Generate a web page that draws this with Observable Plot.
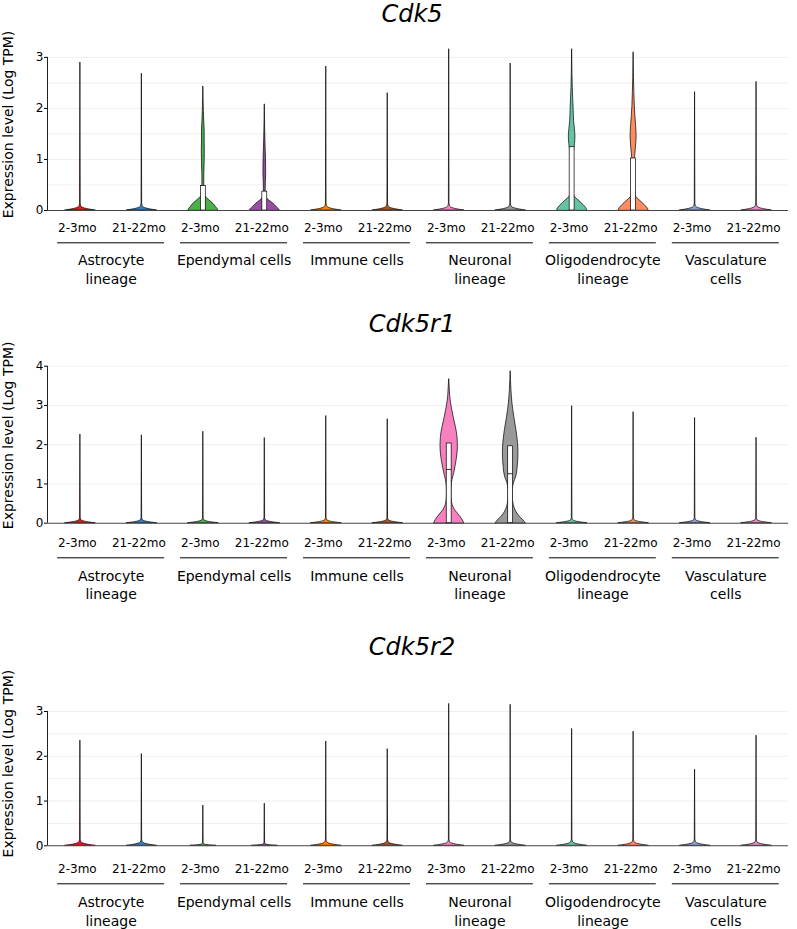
<!DOCTYPE html>
<html><head><meta charset="utf-8">
<script src="https://cdn.jsdelivr.net/npm/d3@7"></script>
<script src="https://cdn.jsdelivr.net/npm/@observablehq/plot@0.6"></script>
<style>
body{margin:0;background:#fff;}
#root{position:relative;width:797px;height:929px;overflow:hidden;font-family:"DejaVu Sans",sans-serif;background:#fff;}
.title{position:absolute;font-style:italic;font-size:24px;line-height:24px;white-space:nowrap;transform:translateX(-50%);color:#000;font-family:"DejaVu Sans",sans-serif;z-index:2;}
.panel{position:absolute;left:0;overflow:visible;}
.panel svg{overflow:visible !important;background:transparent !important;}
</style></head><body><div id="root"></div>
<script>
// ---------- data ----------
const genes = ["Cdk5", "Cdk5r1", "Cdk5r2"];
const groupLabels = ["Astrocyte\nlineage", "Ependymal cells", "Immune cells", "Neuronal\nlineage", "Oligodendrocyte\nlineage", "Vasculature\ncells"];
const ageLabels = ["2-3mo", "21-22mo"];
const yTitle = "Expression level (Log TPM)";

// maximum expression (top of each violin), cells ordered group × age
const cdk5Max   = [2.90, 2.68, 2.43, 2.08, 2.82, 2.30, 3.16, 2.88, 3.16, 3.10, 2.32, 2.52];
const cdk5r1Max = [2.26, 2.24, 2.33, 2.17, 2.73, 2.65, 3.67, 3.87, 2.98, 2.83, 2.68, 2.18];
const cdk5r2Max = [2.35, 2.05, 0.90, 0.94, 2.33, 2.16, 3.17, 3.15, 2.61, 2.55, 1.70, 2.46];

// density profiles [expression, relative half-width]
const spikeBase = [[0,1],[0.02,0.6],[0.04,0.3],[0.06,0.13],[0.09,0.05],[0.14,0.02]];
const flatBase  = [[0,0.85],[0.012,0.35],[0.03,0.1],[0.06,0.02]];
const cdk5Epen23   = [[0,1],[0.03,0.95],[0.065,0.85],[0.13,0.67],[0.2,0.4],[0.26,0.18],[0.3,0.1],[0.4,0.07],[0.55,0.06],[0.75,0.07],[0.95,0.09],[1.15,0.1],[1.35,0.09],[1.55,0.09],[1.75,0.06],[1.95,0.035],[2.2,0.015]];
const cdk5Epen2122 = [[0,1],[0.03,0.93],[0.065,0.8],[0.13,0.58],[0.19,0.32],[0.24,0.14],[0.28,0.08],[0.4,0.06],[0.55,0.07],[0.7,0.09],[0.85,0.09],[1.0,0.08],[1.2,0.06],[1.4,0.04],[1.6,0.025],[1.85,0.012]];
const cdk5Oligo23  = [[0,1],[0.05,0.93],[0.1,0.78],[0.2,0.42],[0.26,0.2],[0.31,0.12],[0.4,0.08],[0.6,0.06],[0.8,0.06],[1.0,0.08],[1.15,0.12],[1.3,0.19],[1.45,0.22],[1.6,0.18],[1.75,0.13],[2.0,0.1],[2.2,0.07],[2.4,0.045],[2.7,0.02],[3.0,0.008]];
const cdk5Oligo2122= [[0,1],[0.05,0.92],[0.1,0.76],[0.2,0.4],[0.26,0.19],[0.31,0.11],[0.4,0.07],[0.6,0.06],[0.85,0.07],[1.05,0.1],[1.25,0.16],[1.45,0.2],[1.65,0.17],[1.85,0.12],[2.05,0.08],[2.3,0.05],[2.6,0.025],[2.9,0.01]];
const r1Neur23   = [[0,1],[0.085,0.89],[0.17,0.73],[0.25,0.56],[0.34,0.38],[0.42,0.27],[0.51,0.2],[0.64,0.16],[0.8,0.15],[0.93,0.16],[1.1,0.22],[1.27,0.33],[1.44,0.42],[1.7,0.53],[1.95,0.58],[2.2,0.55],[2.46,0.44],[2.71,0.29],[2.97,0.16],[3.22,0.07],[3.48,0.03]];
const r1Neur2122 = [[0,1],[0.085,0.82],[0.17,0.6],[0.25,0.44],[0.34,0.31],[0.47,0.2],[0.59,0.15],[0.75,0.13],[0.88,0.15],[1.02,0.22],[1.19,0.38],[1.44,0.47],[1.78,0.52],[2.04,0.49],[2.38,0.38],[2.71,0.24],[3.05,0.12],[3.4,0.05],[3.65,0.02]];

const cdk5Profiles   = [null, null, cdk5Epen23, cdk5Epen2122, null, null, null, null, cdk5Oligo23, cdk5Oligo2122, null, null];
const cdk5r1Profiles = [null, null, null, null, null, null, r1Neur23, r1Neur2122, null, null, null, null];
const cdk5r2Profiles = [null, null, flatBase, flatBase, null, null, null, null, null, null, null, null];

// box plots (upper quartile / median; lower quartile at 0)
const cdk5BoxTop   = [null, null, 0.48, 0.37, null, null, null, null, 1.24, 1.02, null, null];
const cdk5BoxMed   = [null, null, 0, 0, null, null, null, null, 0, 0, null, null];
const cdk5r1BoxTop = [null, null, null, null, null, null, 2.03, 1.96, null, null, null, null];
const cdk5r1BoxMed = [null, null, null, null, null, null, 1.37, 1.26, null, null, null, null];
const cdk5r2BoxTop = [null, null, null, null, null, null, null, null, null, null, null, null];
const cdk5r2BoxMed = [null, null, null, null, null, null, null, null, null, null, null, null];

// axis ticks and grid values
const ticks3 = [0, 1, 2, 3];
const ticks4 = [0, 1, 2, 3, 4];
const gridHalf = [0.5, 1, 1.5, 2, 2.5, 3];
const gridOne = [1, 2, 3, 4];

// ---------- styles / layout ----------
const palette = ["#E41A1C","#377EB8","#4DAF4A","#984EA3","#FF7F00","#A65628","#F781BF","#999999","#66C2A5","#FC8D62","#8DA0CB","#E78AC3"];
const HALF = 0.244;   // violin max half-width (x units)
const BOXW = 0.04;    // box half-width
const GLINE = 0.87;   // group underline half-length
const xDomain = [-0.535, 11.52];

const panels = [
  {gene: genes[0], maxes: cdk5Max, profiles: cdk5Profiles, boxTop: cdk5BoxTop, boxMed: cdk5BoxMed, ticks: ticks3, grid: gridHalf,
   svgTop: 30, height: 270, marginTop: 8, marginBottom: 90, yTop: 3.37, titleTop: 1.5, ageDy: 21.7, lineDy: 32.3, g1Dy: 54, g2Dy: 73.3},
  {gene: genes[1], maxes: cdk5r1Max, profiles: cdk5r1Profiles, boxTop: cdk5r1BoxTop, boxMed: cdk5r1BoxMed, ticks: ticks4, grid: gridOne,
   svgTop: 340, height: 280, marginTop: 7, marginBottom: 97.3, yTop: 4.476, titleTop: 311.5, ageDy: 24, lineDy: 34.6, g1Dy: 57.3, g2Dy: 75.6},
  {gene: genes[2], maxes: cdk5r2Max, profiles: cdk5r2Profiles, boxTop: cdk5r2BoxTop, boxMed: cdk5r2BoxMed, ticks: ticks3, grid: gridHalf,
   svgTop: 665, height: 264, marginTop: 16, marginBottom: 83.7, yTop: 3.67, titleTop: 634.5, ageDy: 27.4, lineDy: 38, g1Dy: 60.7, g2Dy: 79.7}
];

const cells = d3.cross(groupLabels, ageLabels).map(([g, a], i) => ({cell: i, age: a, group: g}));
const groups = groupLabels.map((g, i) => {
  const [l1, l2 = ""] = g.split("\n");
  return {g: i, line1: l1, line2: l2};
});

const root = document.getElementById("root");

for (const P of panels) {
  const rows = [];
  P.maxes.forEach((mx, i) => {
    const prof = P.profiles[i] || spikeBase;
    for (const [v, w] of prof) rows.push({cell: i, v, w, color: palette[i]});
    rows.push({cell: i, v: mx, w: 0, color: palette[i]});
  });
  const boxes = P.boxTop.map((t, i) => t == null ? null : {cell: i, q3: t, med: P.boxMed[i]}).filter(Boolean);

  const chart = Plot.plot({
    width: 797, height: P.height,
    marginTop: P.marginTop, marginBottom: P.marginBottom, marginLeft: 47, marginRight: 9,
    x: {domain: xDomain, axis: null},
    y: {domain: [0, P.yTop], label: null},
    color: {type: "identity"},
    style: {fontFamily: "DejaVu Sans, sans-serif", fontSize: "12px", color: "black", background: "transparent", overflow: "visible"},
    marks: [
      Plot.ruleY(P.grid, {stroke: "#ebebeb", strokeWidth: 0.8}),
      Plot.areaX(rows, {y: "v", x1: d => d.cell - d.w * HALF, x2: d => d.cell + d.w * HALF, z: "cell", fill: "color", stroke: "black", strokeWidth: 0.7, curve: "monotone-y"}),
      Plot.rect(boxes, {x1: d => d.cell - BOXW, x2: d => d.cell + BOXW, y1: () => 0, y2: "q3", fill: "white", stroke: "black", strokeWidth: 0.7}),
      Plot.ruleY(boxes, {y: "med", x1: d => d.cell - BOXW, x2: d => d.cell + BOXW, stroke: "black", strokeWidth: 0.8}),
      Plot.ruleY([0], {stroke: "#444", strokeWidth: 1.1}),
      Plot.ruleX([xDomain[0]], {y1: () => 0, y2: () => P.ticks[P.ticks.length - 1], stroke: "#222", strokeWidth: 1}),
      Plot.axisY(P.ticks, {tickSize: 3, tickPadding: 1, fontSize: 12, label: null, tickFormat: d => String(d)}),
      Plot.text(cells, {x: "cell", text: "age", frameAnchor: "bottom", lineAnchor: "bottom", dy: P.ageDy, dx: -3, fontSize: 12}),
      Plot.ruleY(groups, {x1: d => 2 * d.g + 0.5 - GLINE, x2: d => 2 * d.g + 0.5 + GLINE, y: () => 0, dy: P.lineDy, stroke: "black", strokeWidth: 1}),
      Plot.text(groups, {x: d => 2 * d.g + 0.5, text: "line1", frameAnchor: "bottom", lineAnchor: "bottom", dy: P.g1Dy, fontSize: 14}),
      Plot.text(groups, {x: d => 2 * d.g + 0.5, text: "line2", frameAnchor: "bottom", lineAnchor: "bottom", dy: P.g2Dy, fontSize: 14}),
      Plot.text([yTitle], {text: d => d, frameAnchor: "left", textAnchor: "middle", lineAnchor: "middle", rotate: -90, dx: -38.5, fontSize: 14})
    ]
  });
  chart.setAttribute("overflow", "visible");
  chart.style.overflow = "visible";
  const wrap = document.createElement("div");
  wrap.className = "panel";
  wrap.style.top = P.svgTop + "px";
  wrap.appendChild(chart);
  root.appendChild(wrap);

  const title = document.createElement("div");
  title.className = "title";
  title.style.top = P.titleTop + "px";
  title.style.left = "412px";
  title.textContent = P.gene;
  root.appendChild(title);
}
</script></body></html>
